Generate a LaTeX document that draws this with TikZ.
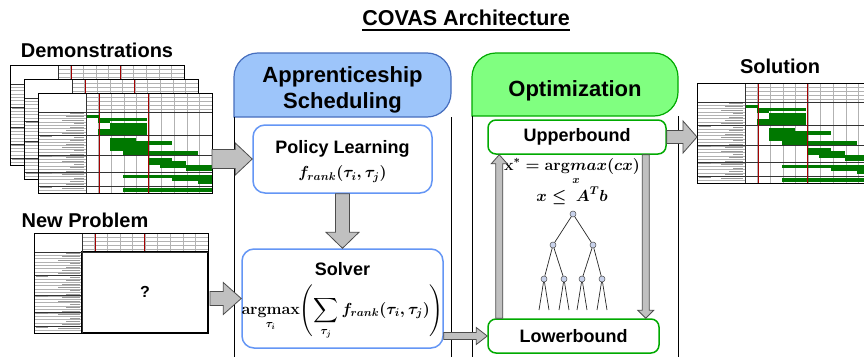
\RequirePackage{fix-cm}
\documentclass[tikz,border=0pt]{standalone}
\usepackage{amsmath}
\usepackage[no-math]{fontspec}
\setmainfont{Liberation Sans}
\usetikzlibrary{calc,positioning}
\definecolor{headblue}{RGB}{157,197,250}
\definecolor{edgeblue}{RGB}{70,110,190}
\definecolor{boxblue}{RGB}{100,150,245}
\definecolor{headgreen}{RGB}{128,255,128}
\definecolor{edgegreen}{RGB}{0,170,0}
\definecolor{ganttgreen}{RGB}{0,120,0}
\definecolor{arrowgray}{RGB}{192,192,192}
\definecolor{nodeblue}{RGB}{200,210,235}

% block arrow: from, to, half body, half head, head length
\newcommand{\blockarrow}[5]{%
  \coordinate (ba-h) at ($(#2)!#5!(#1)$);
  \draw[bigarrow] ($(#1)!#3!90:(#2)$) -- ($(ba-h)!#3!90:(#2)$) -- ($(ba-h)!#4!90:(#2)$)
    -- (#2) -- ($(ba-h)!#4!-90:(#2)$) -- ($(ba-h)!#3!-90:(#2)$) -- ($(#1)!#3!-90:(#2)$) -- cycle;
}

% schedule body with bars
\newcommand{\ganttbars}{%
  \foreach \cc in {1,...,9}
    \draw[ganttline] ({48+12.6*\cc},19) -- ({48+12.6*\cc},100);
  \foreach \xa/\ya/\xb/\yb in {48/22/61/25, 60/25/109/27.5, 60/27.5/72/30, 72/30/109/42, 60/36/72/42,
      72/45/98/48, 72/48/134/52, 72/52/110/58, 85/58/160/62,
      110/65/134/72, 122/68/148/75, 148/72/174/78,
      85/82/174/85, 134/85/174/87.5, 160/87.5/174/91, 85/95/174/99}
    \fill[ganttgreen] (\xa,\ya) rectangle (\xb,\yb);
  \foreach \yy in {42,62,79,93}
    \draw[ganttsep] (48,\yy) -- (174,\yy);
  \draw[ganttred] (61,19) -- (61,100) (110,19) -- (110,100);
}

% schedule sheet: top left corner, body
\newcommand{\gantt}[3]{%
  \begin{scope}[shift={(#1,#2)}]
    \fill[white] (0,0) rectangle (174,100);
    \foreach \yy in {4,8,12,16}
      \draw[ganttline] (48,\yy) -- (174,\yy);
    \foreach \cc in {1,...,9}
      \draw[ganttline] ({48+12.6*\cc},0) -- ({48+12.6*\cc},19);
    \foreach \yy [count=\k] in {22,25.4,...,99} {
      \draw[ganttline] (0,\yy) -- (48,\yy);
      \draw[ganttmark] ({36-4*mod(\k,4)},\yy-1.7) -- (46,\yy-1.7);
    }
    \foreach \yy in {42,62,79,93} {
      \draw[ganttsep] (0,\yy) -- (48,\yy);
      \draw[ganttmark] (2,\yy+1.7) -- (14,\yy+1.7);
    }
    \draw[ganttred] (61,0) -- (61,19) (110,0) -- (110,19);
    #3
    \draw[ganttsep] (0,19) -- (174,19) (48,0) -- (48,100);
    \draw[ganttframe] (0,0) rectangle (174,100);
  \end{scope}}

\begin{document}
\begin{tikzpicture}[x=1pt, y=-1pt,
    heading/.style={font=\fontsize{20}{24}\selectfont\bfseries},
    paneltitle/.style={font=\fontsize{22}{26}\selectfont\bfseries, align=center},
    boxtitle/.style={font=\fontsize{18}{22}\selectfont\bfseries},
    mathtext/.style={font=\fontsize{16}{19}\selectfont\boldmath, inner sep=0},
    learnbox/.style={draw=boxblue, line width=1.5, rounded corners=12, fill=white},
    boundbox/.style={draw=edgegreen, line width=1.5, rounded corners=8, fill=white,
      font=\fontsize{18}{22}\selectfont\bfseries},
    bigarrow/.style={draw=black!70, fill=arrowgray, line width=0.8},
    treenode/.style={circle, draw=black!70, fill=nodeblue, inner sep=0, minimum size=6, line width=0.5},
    treeedge/.style={black!85, line width=0.7},
    ganttline/.style={black!30, line width=0.25},
    ganttmark/.style={black!40, line width=0.8},
    ganttsep/.style={black!80, line width=0.5},
    ganttred/.style={red!65!black, line width=0.5},
    ganttframe/.style={black, line width=0.9}]

  \clip (0,0) rectangle (864,356);
  \fill[white] (0,0) rectangle (864,356);

  % Title
  \node[heading, font=\fontsize{21.5}{25}\selectfont\bfseries] (title) at (466,18) {COVAS Architecture};
  \draw[line width=1.5] ($(title.base west)+(3.3,4.5)$) -- ($(title.base east)+(-3.3,4.5)$);

  % Demonstrations
  \node[heading] (demolabel) at (97,50) {Demonstrations};
  \gantt{10}{65}{\ganttbars}
  \gantt{24}{79}{\ganttbars}
  \gantt{38}{93}{\ganttbars}
  \coordinate (demoedge) at (212,93);

  % New problem
  \node[heading] (newlabel) at (85,220) {New Problem};
  \gantt{34}{233}{\draw[ganttframe, line width=1.2] (48,19) rectangle (174,100);}
  \node[font=\fontsize{16}{19}\selectfont\bfseries] (unknown) at (145,292) {?};
  \coordinate (newedge) at (210,233);

  % Solution
  \node[heading] (solnlabel) at (780,66) {Solution};
  \gantt{697}{83}{\ganttbars}
  \coordinate (solnedge) at (697,83);

  % Apprenticeship scheduling
  \draw[edgeblue, line width=1.2, fill=headblue] [rounded corners=24] (234,117) -- (234,53)
    -- (451,53) -- (451,117) [sharp corners] -- cycle;
  \node[paneltitle] (apphead) at (342.5,90) {Apprenticeship\\Scheduling};
  \draw[line width=0.8] (234,117) -- (234,360) (451,117) -- (451,360);

  \node[learnbox, minimum width=179, minimum height=68] (policy) at (342.5,159) {};
  \node[boxtitle] (policytitle) at (342.5,149) {Policy Learning};
  \node[mathtext] (policymath) at (342.5,174) {$f_{rank}(\tau_i,\tau_j)$};

  \node[learnbox, minimum width=201, minimum height=99] (solver) at (342.5,298.5) {};
  \node[boxtitle] (solvertitle) at (342.5,269) {Solver};
  \node[mathtext] (solvermath) at (342.5,312)
    {$\displaystyle\mathop{\mathbf{argmax}}\limits_{\tau_i}\Biggl(\sum_{\tau_j}f_{rank}(\tau_i,\tau_j)\Biggr)$};

  % Optimization
  \draw[edgegreen, line width=1.2, fill=headgreen] [rounded corners=24] (472,116) -- (472,53)
    -- (678,53) -- (678,116) [sharp corners] -- cycle;
  \node[paneltitle] (opthead) at (575,91) {Optimization};
  \draw[line width=0.8] (472,116) -- (472,360) (678,116) -- (678,360);

  \node[boundbox, minimum width=178, minimum height=34] (upper) at (577,137) {Upperbound};
  \node[boundbox, minimum width=171, minimum height=34] (lower) at (573.5,336) {Lowerbound};
  \node[mathtext, align=center] (lpmath) at (572,182)
    {$\begin{gathered}\mathbf{x}^{*}=\underset{x}{\mathbf{arg}max}(cx)\\[-2pt]
      x\leq\ A^{T}b\end{gathered}$};

  % Branch and bound tree
  \node[treenode] (t0) at (573,214) {};
  \node[treenode] (t1) at (553,245) {};
  \node[treenode] (t2) at (593,245) {};
  \node[treenode] (t3) at (544,279) {};
  \node[treenode] (t4) at (564,279) {};
  \node[treenode] (t5) at (582,279) {};
  \node[treenode] (t6) at (602,279) {};
  \foreach \pa/\pb in {t0/t1,t0/t2,t1/t3,t1/t4,t2/t5,t2/t6}
    \draw[treeedge] (\pa) -- (\pb);
  \foreach \pa in {t3,t4,t5,t6} {
    \coordinate (\pa-l) at ($(\pa)+(-5,31)$);
    \coordinate (\pa-r) at ($(\pa)+(5,31)$);
    \draw[treeedge] (\pa) -- (\pa-l) (\pa) -- (\pa-r);
  }

  % Arrows
  \coordinate (demoout) at (demoedge |- policy.west);
  \coordinate (newout) at (newedge |- solver.west);
  \coordinate (solverout) at (solver.east |- lower.west);
  \coordinate (ubleft) at ($(upper.south west)+(12,0)$);
  \coordinate (lbleft) at (ubleft |- lower.north);
  \coordinate (ubright) at ($(upper.south east)+(-21,0)$);
  \coordinate (lbright) at (ubright |- lower.north);
  \coordinate (solnin) at (solnedge |- upper.east);

  \blockarrow{demoout}{policy.west}{9.5pt}{16pt}{17pt}
  \blockarrow{newout}{solver.west}{7pt}{16pt}{18pt}
  \blockarrow{policy.south}{solver.north}{7pt}{16.5pt}{16pt}
  \blockarrow{solverout}{lower.west}{3.5pt}{8.5pt}{11pt}
  \blockarrow{lbleft}{ubleft}{3.5pt}{8pt}{9pt}
  \blockarrow{ubright}{lbright}{3.5pt}{8pt}{8pt}
  \blockarrow{upper.east}{solnin}{6.5pt}{16pt}{14pt}
\end{tikzpicture}
\end{document}
